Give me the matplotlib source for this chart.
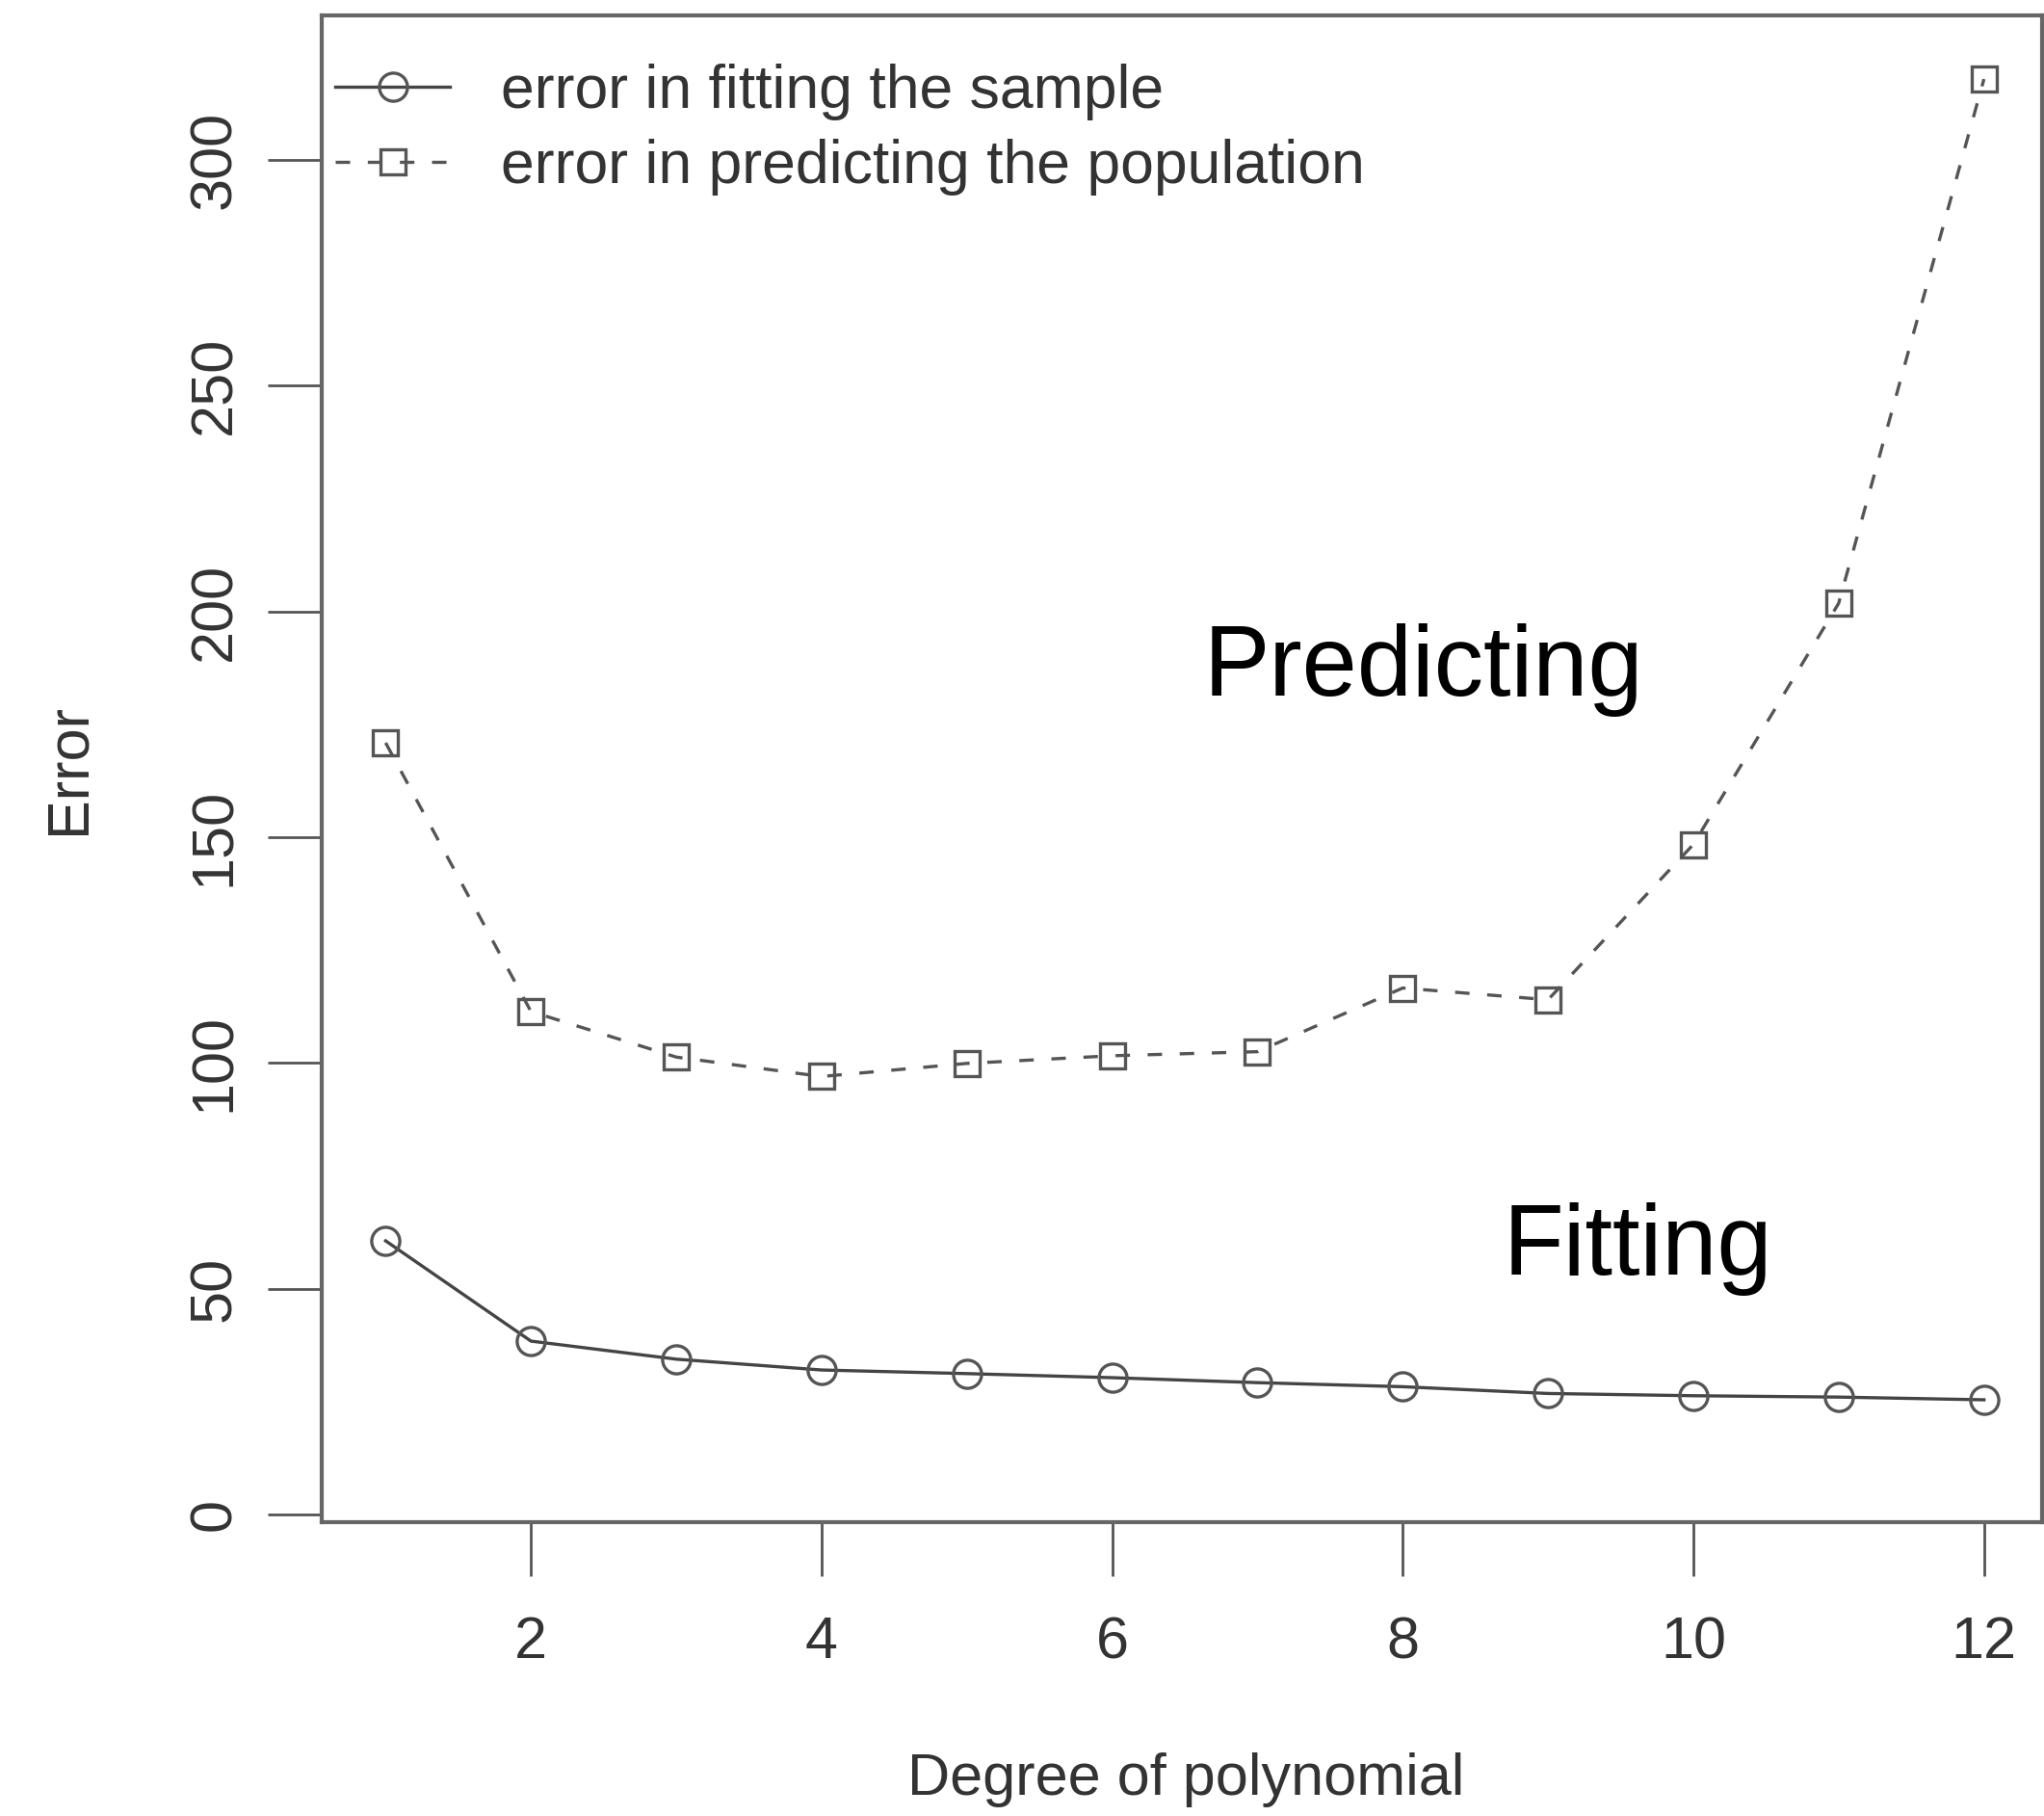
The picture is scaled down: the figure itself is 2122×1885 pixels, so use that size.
import numpy as np
import matplotlib
matplotlib.use('Agg')
import matplotlib.pyplot as plt

# polynomial degree and errors
degree = [1, 2, 3, 4, 5, 6, 7, 8, 9, 10, 11, 12]
fit_err = [60.6, 38.4, 34.4, 32.0, 31.2, 30.3, 29.2, 28.3, 26.8, 26.3, 26.0, 25.4]
pred_err = [170.9, 111.4, 101.3, 97.0, 99.9, 101.6, 102.5, 116.6, 114.0, 148.4, 201.8, 317.9]

xticks = [2, 4, 6, 8, 10, 12]
yticks = [0, 50, 100, 150, 200, 250, 300]
legend_labels = ['error in fitting the sample', 'error in predicting the population']

plt.rcParams['font.family'] = ['Liberation Sans', 'DejaVu Sans']

W, H = 2122, 1885
fig = plt.figure(figsize=(W / 100, H / 100), dpi=100)
ax = fig.add_axes([334 / W, 1 - 1580 / H, (2120 - 334) / W, (1580 - 16) / H])

gray = '#444444'
ax.plot(degree, fit_err, '-', color=gray, lw=2.4, marker='o', ms=21,
        mfc='none', mec='#555555', mew=2.4, label=legend_labels[0])
ax.plot(degree, pred_err, color='#555555', lw=2.4, ls=(0, (4.5, 5.5)), marker='s', ms=19,
        mfc='none', mec='#555555', mew=2.4, label=legend_labels[1])

ax.set_xlim(0.56, 12.40)
ax.set_ylim(-1.7, 332)
ax.set_xticks(xticks)
ax.set_yticks(yticks)
ax.tick_params(axis='both', length=40, width=2, color='#555555', labelsize=44,
               labelcolor='#333333')
ax.tick_params(axis='x', pad=30)
ax.tick_params(axis='y', pad=19)
for lab in ax.get_yticklabels():
    lab.set_rotation(90)
    lab.set_va('center')

for sp in ax.spines.values():
    sp.set_linewidth(3)
    sp.set_color('#666666')

ax.text(6.63, 181.4, 'Predicting', fontsize=74, va='baseline', ha='left', color='black')
ax.text(8.69, 53.1, 'Fitting', fontsize=74, va='baseline', ha='left', color='black')

ax.legend(loc='upper left', bbox_to_anchor=(0.008, 0.968), frameon=False, fontsize=45,
          handlelength=1.9, handletextpad=0.85, labelspacing=0.3, borderpad=0,
          borderaxespad=0, labelcolor='#333333')

fig.text(72 / W, 1 - 798 / H, 'Error', rotation=90, ha='center', va='center',
         fontsize=44, color='#333333')
fig.text(1231 / W, 1 - 1847 / H, 'Degree of polynomial', ha='center', va='center',
         fontsize=44, color='#333333')

fig.savefig('out.png', dpi=100)
